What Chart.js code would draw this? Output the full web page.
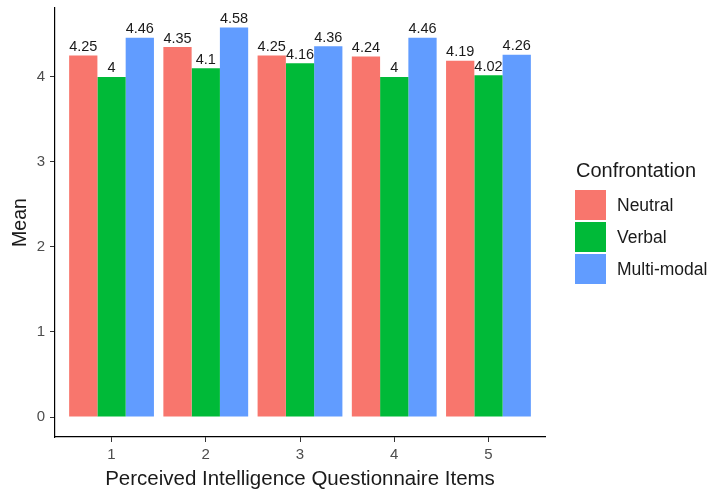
<!DOCTYPE html>
<html>
<head>
<meta charset="utf-8">
<script src="https://cdn.jsdelivr.net/npm/chart.js@4.4.1/dist/chart.umd.min.js"></script>
<style>
  html, body { margin: 0; padding: 0; background: #fff; }
  #wrap { width: 709px; height: 493px; }
</style>
</head>
<body>
<div id="wrap"><canvas id="meanChart" width="709" height="493"></canvas></div>
<script>
// values
var categories = ['1', '2', '3', '4', '5'];
var neutral = [4.25, 4.35, 4.25, 4.24, 4.19];
var verbal = [4, 4.1, 4.16, 4, 4.02];
var multiModal = [4.46, 4.58, 4.36, 4.46, 4.26];
var yTicks = [0, 1, 2, 3, 4];
var seriesNames = ['Neutral', 'Verbal', 'Multi-modal'];
var seriesColors = ['#F8766D', '#00BA38', '#619CFF'];

var FONT = '"Liberation Sans", Arial, sans-serif';

function toPoints(values) {
    return values.map(function(v, i) { return { x: i + 1, y: v }; });
}

// value labels above each bar
var barLabels = {
    id: 'barLabels',
    afterDatasetsDraw: function(chart) {
        var ctx = chart.ctx;
        ctx.save();
        ctx.font = '14.5px ' + FONT;
        ctx.fillStyle = '#1a1a1a';
        ctx.textAlign = 'center';
        ctx.textBaseline = 'alphabetic';
        chart.data.datasets.forEach(function(ds, di) {
            chart.getDatasetMeta(di).data.forEach(function(bar, i) {
                ctx.fillText(String(ds.data[i].y), bar.x, bar.y - 4.5);
            });
        });
        ctx.restore();
    }
};

// ggplot-like legend on the right
var sideLegend = {
    id: 'sideLegend',
    afterDraw: function(chart) {
        var ctx = chart.ctx;
        var x0 = 575;
        ctx.save();
        ctx.font = '20px ' + FONT;
        ctx.fillStyle = '#1a1a1a';
        ctx.textAlign = 'left';
        ctx.textBaseline = 'middle';
        ctx.fillText('Confrontation', x0 + 1, 171);
        chart.data.datasets.forEach(function(ds, i) {
            var top = 190 + i * 32;
            ctx.fillStyle = ds.backgroundColor;
            ctx.fillRect(x0, top, 31, 30);
            ctx.fillStyle = '#1a1a1a';
            ctx.font = '17.5px ' + FONT;
            ctx.fillText(ds.label, x0 + 42, top + 16);
        });
        ctx.restore();
    }
};

var ctx = document.getElementById('meanChart');
var chart = new Chart(ctx, {
    type: 'bar',
    data: {
        datasets: [
            { label: seriesNames[0], data: toPoints(neutral), backgroundColor: seriesColors[0] },
            { label: seriesNames[1], data: toPoints(verbal), backgroundColor: seriesColors[1] },
            { label: seriesNames[2], data: toPoints(multiModal), backgroundColor: seriesColors[2] }
        ]
    },
    options: {
        responsive: false,
        animation: false,
        layout: { padding: { top: 8, right: 164, left: 0, bottom: 0 } },
        datasets: { bar: { categoryPercentage: 0.9, barPercentage: 1, grouped: true } },
        plugins: { legend: { display: false }, tooltip: { enabled: false } },
        scales: {
            x: {
                type: 'linear',
                offset: false,
                min: 0.4,
                max: 5.6,
                afterBuildTicks: function(scale) {
                    scale.ticks = categories.map(function(c, i) { return { value: i + 1 }; });
                },
                afterFit: function(scale) { scale.height = 56; },
                grid: { display: true, offset: false, drawOnChartArea: false, tickLength: 5, color: '#333' },
                border: { display: true, color: '#000', width: 1.2 },
                ticks: {
                    padding: 4,
                    color: '#4d4d4d',
                    font: { family: FONT, size: 15 },
                    callback: function(v) { return categories[v - 1]; }
                },
                title: {
                    display: true,
                    text: 'Perceived Intelligence Questionnaire Items',
                    color: '#1a1a1a',
                    font: { family: FONT, size: 20.5 },
                    padding: { top: 0, bottom: 1 }
                }
            },
            y: {
                min: -0.235,
                max: 4.81,
                afterBuildTicks: function(scale) {
                    scale.ticks = yTicks.map(function(v) { return { value: v }; });
                },
                afterFit: function(scale) {
                    scale.width = 55;
                    scale.paddingTop = 0;
                    scale.paddingBottom = 0;
                },
                grid: { display: true, drawOnChartArea: false, tickLength: 5, color: '#333' },
                border: { display: true, color: '#000', width: 1.2 },
                ticks: {
                    padding: 5,
                    color: '#4d4d4d',
                    font: { family: FONT, size: 15 }
                },
                title: {
                    display: true,
                    text: 'Mean',
                    color: '#1a1a1a',
                    font: { family: FONT, size: 19.5 },
                    padding: { top: 9, bottom: 0 }
                }
            }
        }
    },
    plugins: [barLabels, sideLegend]
});
</script>
</body>
</html>
